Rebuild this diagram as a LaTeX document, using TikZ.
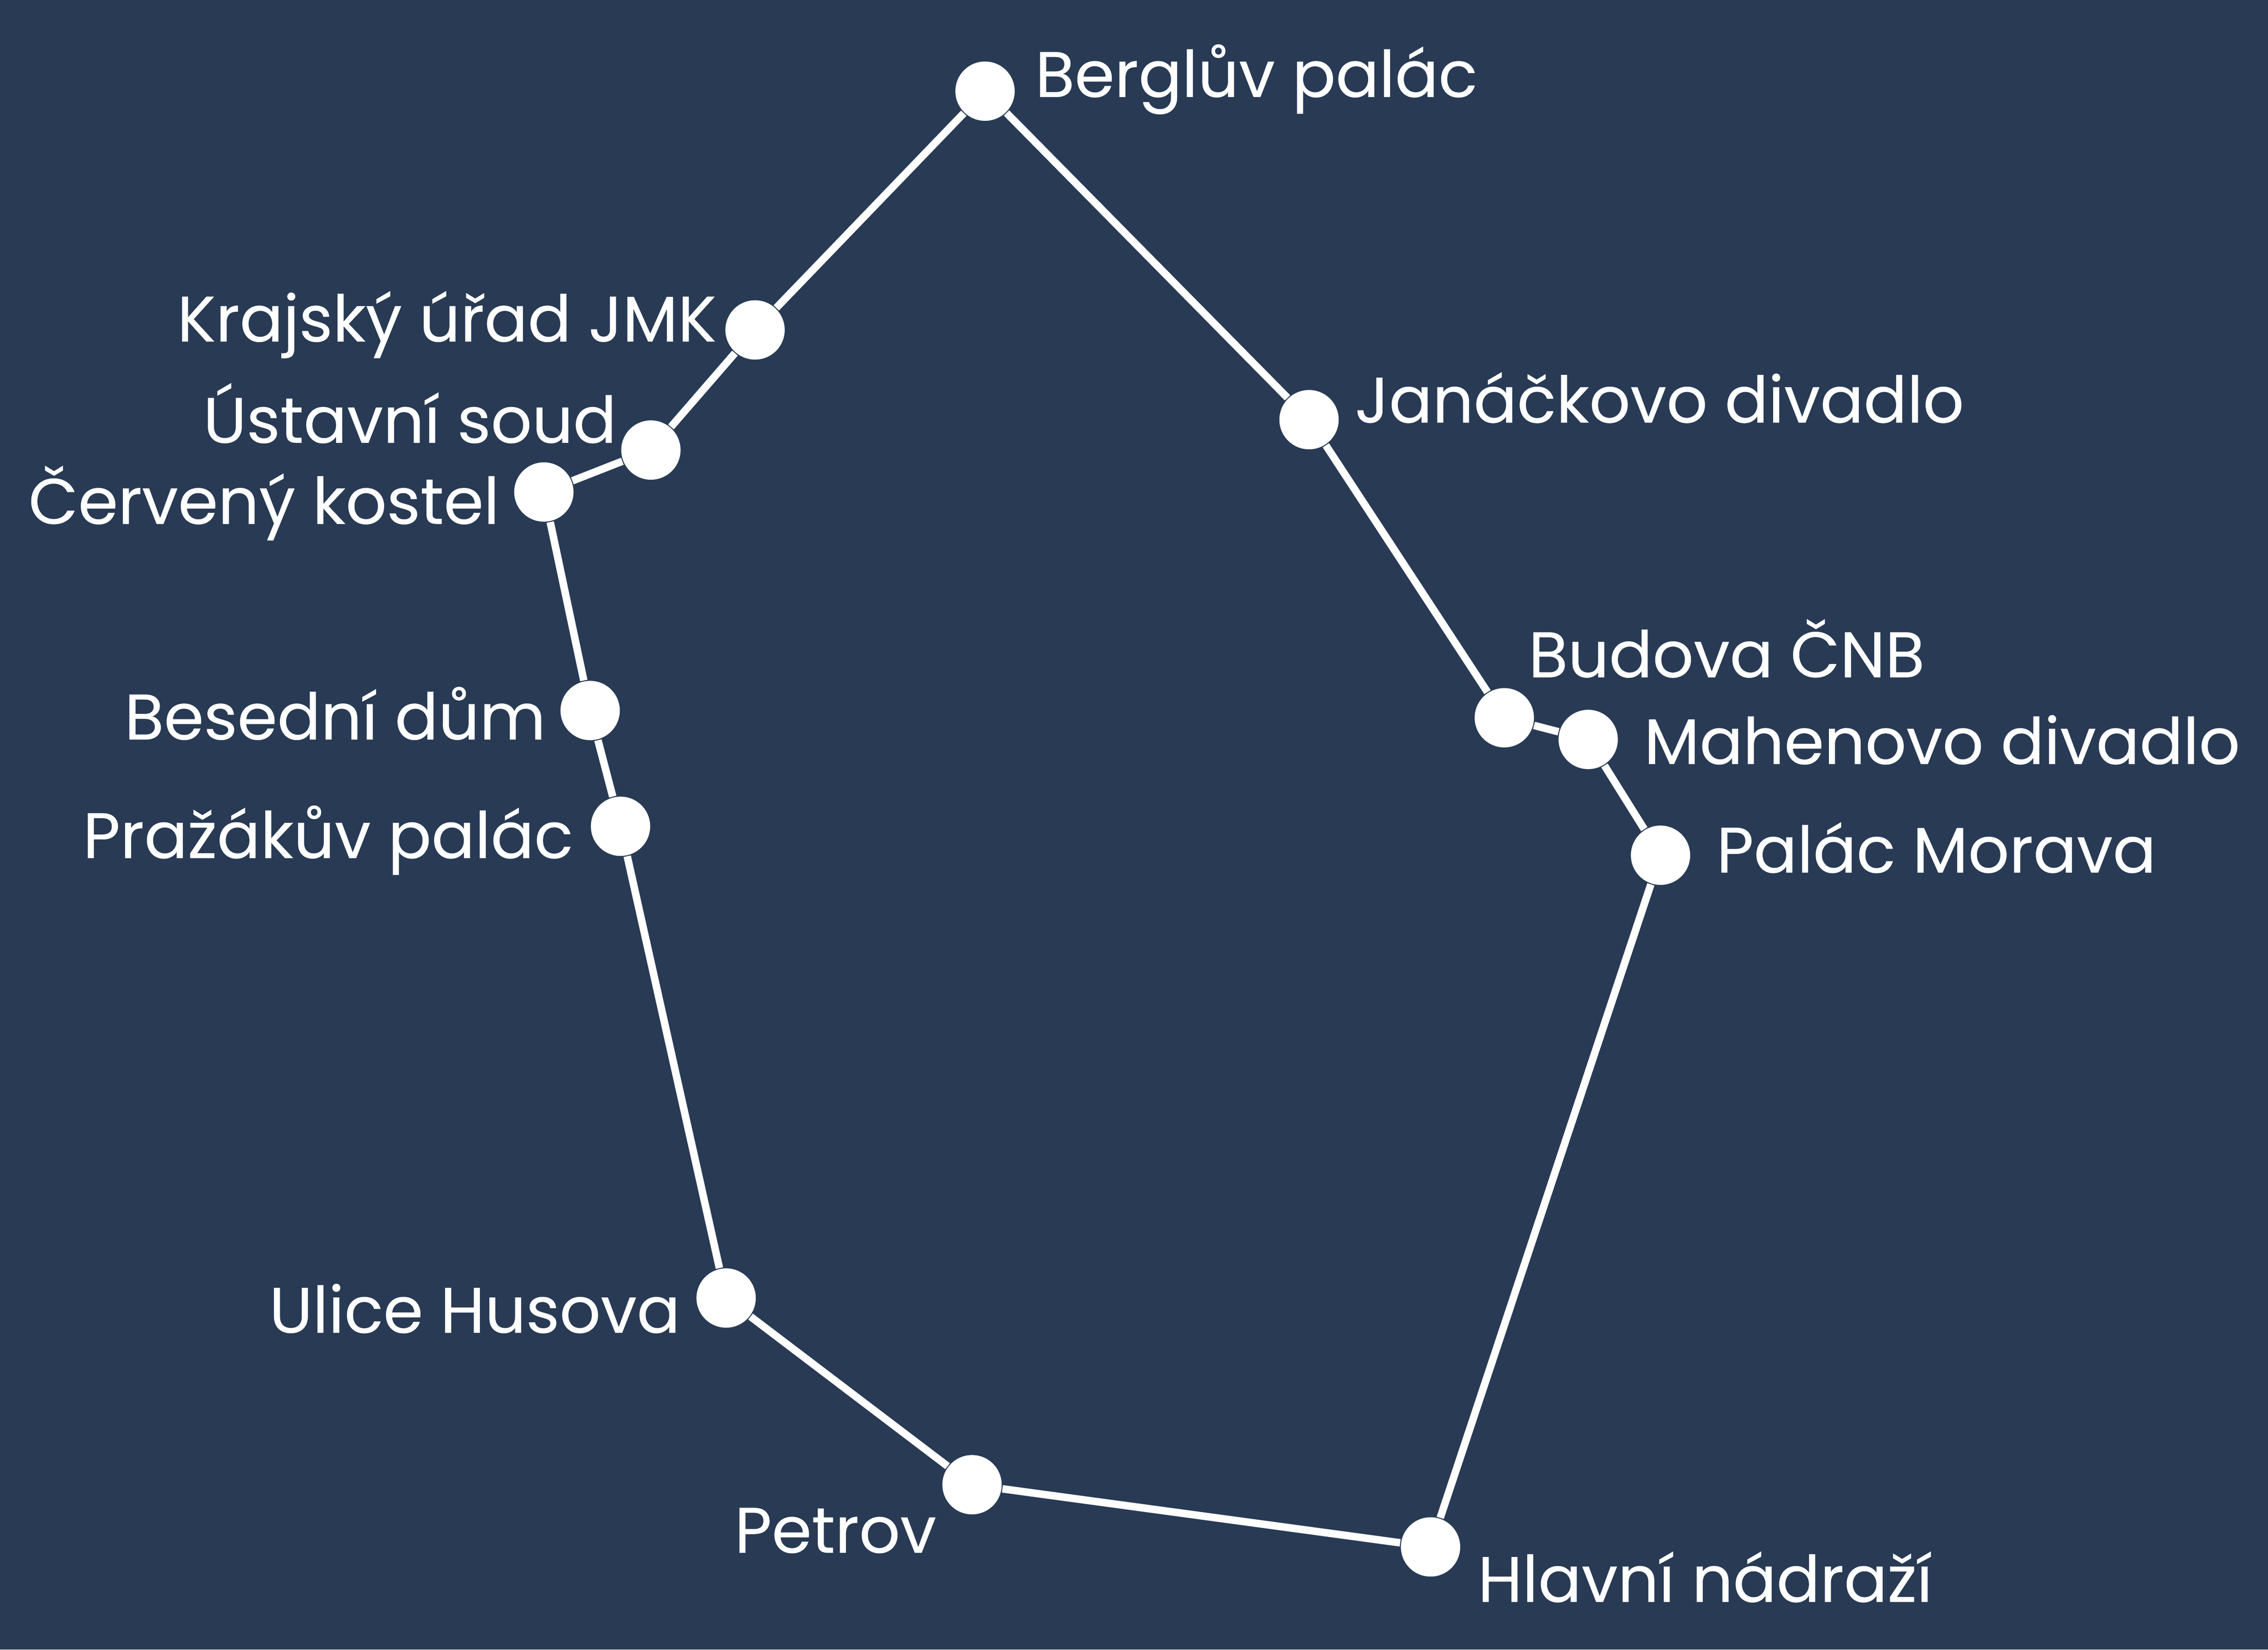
\documentclass[tikz,border=0pt]{standalone}
\usepackage{fontspec}
\setmainfont[FakeBold=0.25]{Poppins}
\definecolor{navy}{HTML}{283A54}
\tikzset{
    stop/.style={draw=none,fill=white,circle,minimum size=0.41cm,inner sep=0pt},
    stoplabel/.style={text=white,font=\fontsize{12.65pt}{16pt}\selectfont,inner sep=0pt},
    route/.style={draw=white,line width=0.052cm},
}
\begin{document}
\begin{tikzpicture}
    %% Background
    \fill[navy] (0,0) rectangle (15.68,-11.40);
    \useasboundingbox (0,0) rectangle (15.68,-11.40);
    %% Stops
    \node[stop] (berglov) at (6.81,-0.63) {};
    \node[stop] (janacek) at (9.05,-2.90) {};
    \node[stop] (cnb) at (10.40,-4.96) {};
    \node[stop] (mahen) at (10.98,-5.11) {};
    \node[stop] (morava) at (11.48,-5.91) {};
    \node[stop] (nadrazi) at (9.89,-10.69) {};
    \node[stop] (petrov) at (6.72,-10.26) {};
    \node[stop] (husova) at (5.02,-8.97) {};
    \node[stop] (prazak) at (4.29,-5.71) {};
    \node[stop] (besedni) at (4.08,-4.91) {};
    \node[stop] (cerveny) at (3.76,-3.40) {};
    \node[stop] (ustavni) at (4.50,-3.11) {};
    \node[stop] (krajsky) at (5.22,-2.28) {};
    %% Route
    \draw[route] (berglov) -- (janacek) -- (cnb) -- (mahen) -- (morava) -- (nadrazi) -- (petrov)
        -- (husova) -- (prazak) -- (besedni) -- (cerveny) -- (ustavni) -- (krajsky) -- (berglov);
    %% Labels
    \node[stoplabel,anchor=base west] (berglovtext) at (7.15,-0.67) {Berglův palác};
    \node[stoplabel,anchor=base west] (janacektext) at (9.36,-2.92) {Janáčkovo divadlo};
    \node[stoplabel,anchor=base west] (cnbtext) at (10.56,-4.68) {Budova ČNB};
    \node[stoplabel,anchor=base west] (mahentext) at (11.36,-5.28) {Mahenovo divadlo};
    \node[stoplabel,anchor=base west] (moravatext) at (11.86,-6.03) {Palác Morava};
    \node[stoplabel,anchor=base west] (nadrazitext) at (10.21,-11.07) {Hlavní nádraží};
    \node[stoplabel,anchor=base east] (petrovtext) at (6.48,-10.73) {Petrov};
    \node[stoplabel,anchor=base east] (husovatext) at (4.71,-9.21) {Ulice Husova};
    \node[stoplabel,anchor=base east] (prazaktext) at (3.97,-5.93) {Pražákův palác};
    \node[stoplabel,anchor=base east] (besednitext) at (3.78,-5.11) {Besední dům};
    \node[stoplabel,anchor=base east] (cervenytext) at (3.46,-3.62) {Červený kostel};
    \node[stoplabel,anchor=base east] (ustavnitext) at (4.27,-3.06) {Ústavní soud};
    \node[stoplabel,anchor=base east] (krajskytext) at (4.96,-2.36) {Krajský úřad JMK};
\end{tikzpicture}
\end{document}
